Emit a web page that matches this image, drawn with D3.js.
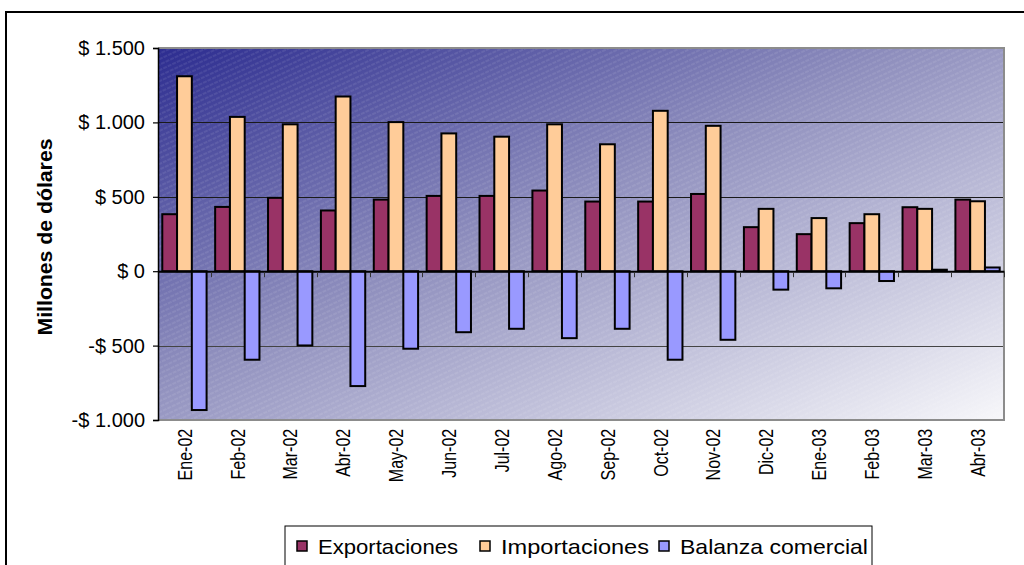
<!DOCTYPE html>
<html>
<head>
<meta charset="utf-8">
<script src="https://cdn.jsdelivr.net/npm/d3@7"></script>
<style>
  body { margin: 0; background: #fff; }
  svg { display: block; font-family: Arial, "Liberation Sans", sans-serif; }
</style>
</head>
<body>
<svg id="chart"></svg>
<script>
'use strict';
// Chart values
var categories = ['Ene-02', 'Feb-02', 'Mar-02', 'Abr-02', 'May-02', 'Jun-02', 'Jul-02', 'Ago-02',
    'Sep-02', 'Oct-02', 'Nov-02', 'Dic-02', 'Ene-03', 'Feb-03', 'Mar-03', 'Abr-03'];
var exportaciones = [383, 432, 493, 408, 481, 506, 506, 542, 468, 468, 519, 296, 249, 323, 430, 481];
var importaciones = [1310, 1037, 987, 1174, 1002, 926, 904, 987, 853, 1078, 977, 419, 357, 383, 419, 470];
var balanza = [-933, -595, -499, -772, -521, -410, -387, -450, -387, -595, -461, -124, -115, -66, 10, 25];
var seriesNames = ['Exportaciones', 'Importaciones', 'Balanza comercial'];
var seriesColors = ['#993366', '#FFCC99', '#9999FF'];
var yTicks = [-1000, -500, 0, 500, 1000, 1500];
var yTickLabels = ['-$ 1.000', '-$ 500', '$ 0', '$ 500', '$ 1.000', '$ 1.500'];
var yTitle = 'Millones de dólares';

var seriesValues = [exportaciones, importaciones, balanza];

// Setting up the chart area
var canvasWidth = 1024;
var canvasHeight = 565;
var plot = { left: 158, right: 1004, top: 48, bottom: 420 };

var svg = d3.select('#chart')
    .attr('width', canvasWidth)
    .attr('height', canvasHeight);

var defs = svg.append('defs');

// diagonal gradient of the plot area
var grad = defs.append('linearGradient')
    .attr('id', 'bg')
    .attr('x1', 0).attr('y1', 0)
    .attr('x2', 1).attr('y2', 1);
grad.append('stop').attr('offset', '0%').attr('stop-color', '#2c2c90');
grad.append('stop').attr('offset', '45%').attr('stop-color', '#9090be');
grad.append('stop').attr('offset', '100%').attr('stop-color', '#f7f7fa');

// faint diagonal stripes on top of it
var hatch = defs.append('pattern')
    .attr('id', 'hatch')
    .attr('width', 5).attr('height', 5)
    .attr('patternUnits', 'userSpaceOnUse')
    .attr('patternTransform', 'rotate(-25)');
hatch.append('line')
    .attr('x1', 0).attr('y1', 1).attr('x2', 5).attr('y2', 1)
    .attr('stroke', '#fff')
    .attr('stroke-opacity', 0.16)
    .attr('stroke-width', 1.2)
    .attr('stroke-dasharray', '3,1');

// outer chart border
svg.append('rect')
    .attr('x', 6).attr('y', 12)
    .attr('width', 1040).attr('height', 600)
    .attr('fill', '#fff')
    .attr('stroke', '#000')
    .attr('stroke-width', 2);

// scales
var x0 = d3.scaleBand()
    .domain(categories)
    .range([plot.left, plot.right])
    .paddingInner(0)
    .paddingOuter(0);
var x1 = d3.scaleBand()
    .domain(d3.range(seriesNames.length))
    .range([0, x0.bandwidth()])
    .paddingInner(0)
    .paddingOuter(0.29);
var yScale = d3.scaleLinear()
    .domain([-1000, 1500])
    .range([plot.bottom, plot.top]);

// plot background
svg.append('rect')
    .attr('x', plot.left).attr('y', plot.top)
    .attr('width', plot.right - plot.left)
    .attr('height', plot.bottom - plot.top)
    .attr('fill', 'url(#bg)');
svg.append('rect')
    .attr('x', plot.left).attr('y', plot.top)
    .attr('width', plot.right - plot.left)
    .attr('height', plot.bottom - plot.top)
    .attr('fill', 'url(#hatch)');

// gridlines
svg.append('g')
    .selectAll('line')
    .data([-500, 500, 1000])
    .enter()
    .append('line')
    .attr('x1', plot.left).attr('x2', plot.right)
    .attr('y1', function(d) { return Math.round(yScale(d)) + 0.5; })
    .attr('y2', function(d) { return Math.round(yScale(d)) + 0.5; })
    .attr('stroke', function(d) { return d < 0 ? '#444' : '#1a1a1a'; })
    .attr('stroke-width', 1);

// gray frame on top, right, bottom
svg.append('path')
    .attr('d', 'M' + plot.left + ',' + plot.top + 'H' + plot.right + 'V' + plot.bottom + 'H' + plot.left)
    .attr('fill', 'none')
    .attr('stroke', '#8c8c8c')
    .attr('stroke-width', 2);

// bars
var groups = svg.append('g')
    .selectAll('g')
    .data(categories)
    .enter()
    .append('g')
    .attr('transform', function(d) { return 'translate(' + x0(d) + ',0)'; });

groups.selectAll('rect')
    .data(function(d, i) {
        return seriesValues.map(function(vals, s) { return { s: s, v: vals[i] }; });
    })
    .enter()
    .append('rect')
    .attr('x', function(d) { return x1(d.s); })
    .attr('width', x1.bandwidth())
    .attr('y', function(d) { return yScale(Math.max(0, d.v)); })
    .attr('height', function(d) { return Math.abs(yScale(d.v) - yScale(0)); })
    .attr('fill', function(d) { return seriesColors[d.s]; })
    .attr('stroke', '#000')
    .attr('stroke-width', 2);

// category axis at zero
var xAxisZero = d3.axisBottom(x0).tickSize(0).tickFormat('');
svg.append('g')
    .attr('transform', 'translate(0,' + yScale(0) + ')')
    .call(xAxisZero)
    .call(function(g) {
        g.select('.domain').attr('stroke', '#000').attr('stroke-width', 2);
    });

// little tick marks between categories
svg.append('g')
    .selectAll('line')
    .data(categories.slice(1).concat(['end']))
    .enter()
    .append('line')
    .attr('x1', function(d, i) { return Math.round(plot.left + (i + 1) * x0.step()) + 0.5; })
    .attr('x2', function(d, i) { return Math.round(plot.left + (i + 1) * x0.step()) + 0.5; })
    .attr('y1', yScale(0) + 1)
    .attr('y2', yScale(0) + 6)
    .attr('stroke', '#333')
    .attr('stroke-width', 1);

// category labels under the plot
var xAxis = d3.axisBottom(x0).tickSize(0);
svg.append('g')
    .attr('transform', 'translate(0,' + plot.bottom + ')')
    .call(xAxis)
    .call(function(g) {
        g.select('.domain').remove();
        g.selectAll('text')
            .attr('font-family', 'Arial, "Liberation Sans", sans-serif')
            .attr('font-size', 20)
            .attr('fill', '#000')
            .attr('transform', 'rotate(-90) scale(0.8,1)')
            .attr('x', -11)
            .attr('y', 0)
            .attr('dy', '0.36em')
            .style('text-anchor', 'end');
    });

// value axis
var yAxis = d3.axisLeft(yScale)
    .tickValues(yTicks)
    .tickSize(5)
    .tickPadding(8)
    .tickFormat(function(d, i) { return yTickLabels[i]; });
svg.append('g')
    .attr('transform', 'translate(' + plot.left + ',0)')
    .call(yAxis)
    .call(function(g) {
        g.select('.domain').attr('stroke', '#000').attr('stroke-width', 1.5);
        g.selectAll('line').attr('stroke', '#000').attr('stroke-width', 1.2);
        g.selectAll('text')
            .attr('font-family', 'Arial, "Liberation Sans", sans-serif')
            .attr('font-size', 20)
            .attr('fill', '#000');
    });

// y title
svg.append('text')
    .attr('transform', 'translate(52,' + 237 + ') rotate(-90)')
    .attr('text-anchor', 'middle')
    .attr('font-size', 20)
    .attr('font-weight', 'bold')
    .attr('textLength', 197)
    .attr('lengthAdjust', 'spacingAndGlyphs')
    .text(yTitle);

// legend
var legend = svg.append('g');
legend.append('rect')
    .attr('x', 285).attr('y', 526)
    .attr('width', 587).attr('height', 60)
    .attr('fill', '#fff')
    .attr('stroke', '#000')
    .attr('stroke-width', 1);

var legendX = [297, 480, 659];
var legendTextLen = [140, 148, 188];
var items = legend.selectAll('g.item')
    .data(seriesNames)
    .enter()
    .append('g')
    .attr('class', 'item')
    .attr('transform', function(d, i) { return 'translate(' + legendX[i] + ',0)'; });
items.append('rect')
    .attr('x', 0).attr('y', 541)
    .attr('width', 10).attr('height', 10)
    .attr('fill', function(d, i) { return seriesColors[i]; })
    .attr('stroke', '#000')
    .attr('stroke-width', 1.5);
items.append('text')
    .attr('x', 21)
    .attr('y', 554)
    .attr('font-size', 21)
    .attr('textLength', function(d, i) { return legendTextLen[i]; })
    .attr('lengthAdjust', 'spacingAndGlyphs')
    .text(function(d) { return d; });
</script>
</body>
</html>
